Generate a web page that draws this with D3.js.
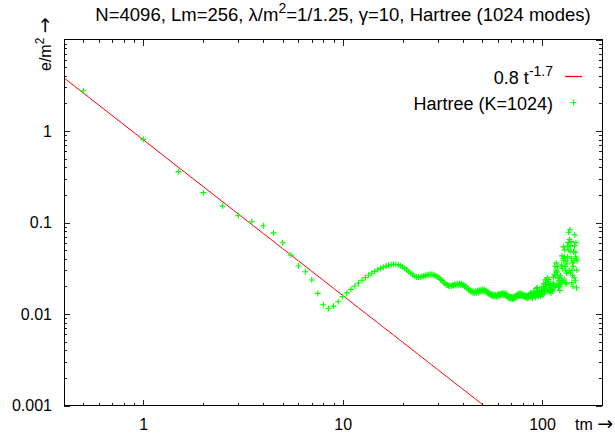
<!DOCTYPE html>
<html>
<head>
<meta charset="utf-8">
<script src="https://cdn.jsdelivr.net/npm/d3@7"></script>
<style>
  html, body { margin: 0; padding: 0; background: #fff; }
  svg { display: block; font-family: "Liberation Sans", Arial, sans-serif; }
</style>
</head>
<body>
<svg id="chart" width="615" height="442"></svg>
<script>
// ---- data ----
const titleText = ["N=4096, Lm=256, \u03bb/m", "2", "=1/1.25, \u03b3=10, Hartree (1024 modes)"];
const xTickLabels = [1, 10, 100];
const yTickLabels = [0.001, 0.01, 0.1, 1];
const xDomain = [0.4, 200];
const yDomain = [0.001, 10];
const fitCoef = 0.8;
const fitExp = -1.7;
const legendFit = ["0.8 t", "-1.7"];
const legendData = "Hartree (K=1024)";
const xLabel = "tm";
const yLabel = ["e/m", "2"];

const tm = [
  0.5,1,1.5,2,2.5,3,3.5,4,4.5,5,5.5,6,6.5,7,7.5,8,8.5,9,9.5,10,
  10.5,11,11.5,12,12.5,13,13.5,14,14.5,15,15.5,16,16.5,17,17.5,18,18.5,19,19.5,20,
  20.5,21,21.5,22,22.5,23,23.5,24,24.5,25,25.5,26,26.5,27,27.5,28,28.5,29,29.5,30,
  30.5,31,31.5,32,32.5,33,33.5,34,34.5,35,35.5,36,36.5,37,37.5,38,38.5,39,39.5,40,
  40.5,41,41.5,42,42.5,43,43.5,44,44.5,45,45.5,46,46.5,47,47.5,48,48.5,49,49.5,50,
  50.5,51,51.5,52,52.5,53,53.5,54,54.5,55,55.5,56,56.5,57,57.5,58,58.5,59,59.5,60,
  60.5,61,61.5,62,62.5,63,63.5,64,64.5,65,65.5,66,66.5,67,67.5,68,68.5,69,69.5,70,
  70.5,71,71.5,72,72.5,73,73.5,74,74.5,75,75.5,76,76.5,77,77.5,78,78.5,79,79.5,80,
  80.5,81,81.5,82,82.5,83,83.5,84,84.5,85,85.5,86,86.5,87,87.5,88,88.5,89,89.5,90,
  90.5,91,91.5,92,92.5,93,93.5,94,94.5,95,95.5,96,96.5,97,97.5,98,98.5,99,99.5,100,
  100.5,101,101.5,102,102.5,103,103.5,104,104.5,105,105.5,106,106.5,107,107.5,108,108.5,109,109.5,110,
  110.5,111,111.5,112,112.5,113,113.5,114,114.5,115,115.5,116,116.5,117,117.5,118,118.5,119,119.5,120,
  120.5,121,121.5,122,122.5,123,123.5,124,124.5,125,125.5,126,126.5,127,127.5,128,128.5,129,129.5,130,
  130.5,131,131.5,132,132.5,133,133.5,134,134.5,135,135.5,136,136.5,137,137.5,138,138.5,139,139.5,140,
  140.5,141,141.5,142,142.5,143,143.5,144,144.5,145,145.5,146,146.5,147,147.5,148,148.5,149,149.5,150
];

const energy = [
  2.75,0.81,0.36,0.212,0.151,0.119,0.102,0.092,0.077,0.060,0.044,0.0335,0.029,0.0235,0.0168,0.0126,0.0115,0.0122,0.0136,0.0155,
  0.0170,0.0186,0.0202,0.0218,0.0234,0.0250,0.0265,0.0279,0.0292,0.0304,0.0315,0.0325,0.0334,0.0341,0.0346,0.0349,0.0348,0.0344,0.0337,0.0327,
  0.0315,0.0302,0.0289,0.0277,0.0267,0.0259,0.0254,0.0252,0.0253,0.0256,0.0260,0.0264,0.0267,0.0269,0.0270,0.0270,0.0268,0.0264,0.0259,0.0253,
  0.0248,0.0238,0.0233,0.0222,0.0218,0.0209,0.0208,0.0202,0.0205,0.0201,0.0207,0.0203,0.0211,0.0206,0.0214,0.0208,0.0215,0.0209,0.0214,0.0206,
  0.0209,0.0199,0.0200,0.0190,0.0191,0.0182,0.0183,0.0175,0.0178,0.0171,0.0176,0.0170,0.0177,0.0171,0.0179,0.0173,0.0182,0.0175,0.0184,0.0177,
  0.0185,0.0178,0.0184,0.0176,0.0180,0.0171,0.0174,0.0166,0.0169,0.0161,0.0165,0.0158,0.0163,0.0156,0.0161,0.0155,0.0161,0.0155,0.0162,0.0156,
  0.0164,0.0158,0.0166,0.0160,0.0168,0.0161,0.0169,0.0162,0.0169,0.0161,0.0167,0.0158,0.0163,0.0154,0.0158,0.0150,0.0155,0.0148,0.0153,0.0147,
  0.0153,0.0146,0.0152,0.0147,0.0154,0.0149,0.0157,0.0151,0.0160,0.0154,0.0163,0.0157,0.0166,0.0159,0.0167,0.0160,0.0167,0.0159,0.0165,0.0157,
  0.0162,0.0155,0.0160,0.0153,0.0158,0.0151,0.0157,0.0150,0.0156,0.0150,0.0157,0.0152,0.0162,0.0155,0.0166,0.0170,0.0162,0.0154,0.0150,0.0156,
  0.0166,0.0178,0.0171,0.0160,0.0152,0.0158,0.0174,0.0190,0.0194,0.0178,0.0162,0.0155,0.0163,0.0180,0.0172,0.0160,0.0156,0.0166,0.0182,0.0198,
  0.0178,0.0164,0.0186,0.0214,0.0190,0.0171,0.0201,0.0236,0.0204,0.0177,0.0221,0.0248,0.0210,0.0180,0.0226,0.0238,0.0196,0.0175,0.0204,0.0214,
  0.0186,0.0170,0.0182,0.0193,0.0178,0.0186,0.0216,0.0252,0.0214,0.0196,0.0272,0.0332,0.0262,0.0204,0.0302,0.0362,0.0282,0.0214,0.0290,0.0328,
  0.0246,0.0196,0.0231,0.0252,0.0201,0.0181,0.0211,0.0262,0.0232,0.0221,0.0342,0.0432,0.0312,0.0231,0.0402,0.0542,0.0382,0.0241,0.0421,0.0502,
  0.0331,0.0221,0.0301,0.0381,0.0281,0.0214,0.0352,0.0552,0.0421,0.0281,0.0602,0.0782,0.0502,0.0301,0.0652,0.0832,0.0562,0.0281,0.0482,0.0622,
  0.0401,0.0221,0.0301,0.0362,0.0262,0.0201,0.0332,0.0482,0.0382,0.0251,0.0552,0.0732,0.0472,0.0231,0.0422,0.0602,0.0402,0.0193,0.0302,0.0382
];

// ---- layout ----
const plot = { left: 64, right: 602, top: 39.5, bottom: 405.5 };
const TICKFONT = 16, TITLEFONT = 18.5, KEYFONT = 18;
const RED = "#ff0000", GREEN = "#00ff00";

const svg = d3.select("#chart");
const x = d3.scaleLog().domain(xDomain).range([plot.left, plot.right]);
const y = d3.scaleLog().domain(yDomain).range([plot.bottom, plot.top]);

const isMajor = v => Math.abs(Math.log10(v) - Math.round(Math.log10(v))) < 1e-9;
const xMinor = x.ticks().filter(v => !isMajor(v));
const yMinor = y.ticks().filter(v => !isMajor(v));
const yMajorAll = y.ticks().filter(isMajor);
const xMajorAll = x.ticks().filter(isMajor);

const clipId = "plotclip";
svg.append("defs").append("clipPath").attr("id", clipId)
  .append("rect").attr("x", plot.left).attr("y", plot.top)
  .attr("width", plot.right - plot.left).attr("height", plot.bottom - plot.top);

function styleAxis(g) {
  g.select(".domain").remove();
  g.selectAll(".tick line").attr("stroke", "#222").attr("shape-rendering", "crispEdges");
  g.selectAll(".tick text").attr("fill", "#000").style("font-size", TICKFONT + "px")
    .style("font-family", '"Liberation Sans", Arial, sans-serif');
}

// bottom
svg.append("g").attr("transform", `translate(0,${plot.bottom})`)
  .call(d3.axisBottom(x).tickValues(xMinor).tickSizeInner(-3).tickSizeOuter(0).tickFormat(""))
  .call(styleAxis);
svg.append("g").attr("transform", `translate(0,${plot.bottom})`)
  .call(d3.axisBottom(x).tickValues(xTickLabels).tickSizeInner(-6).tickSizeOuter(0)
    .tickPadding(13).tickFormat(d3.format("~g")))
  .call(styleAxis);
// top
svg.append("g").attr("transform", `translate(0,${plot.top})`)
  .call(d3.axisTop(x).tickValues(xMinor).tickSizeInner(-3).tickSizeOuter(0).tickFormat(""))
  .call(styleAxis);
svg.append("g").attr("transform", `translate(0,${plot.top})`)
  .call(d3.axisTop(x).tickValues(xMajorAll).tickSizeInner(-6).tickSizeOuter(0).tickFormat(""))
  .call(styleAxis);
// left
svg.append("g").attr("transform", `translate(${plot.left},0)`)
  .call(d3.axisLeft(y).tickValues(yMinor).tickSizeInner(-3).tickSizeOuter(0).tickFormat(""))
  .call(styleAxis);
svg.append("g").attr("transform", `translate(${plot.left},0)`)
  .call(d3.axisLeft(y).tickValues(yTickLabels).tickSizeInner(-6).tickSizeOuter(0)
    .tickPadding(12).tickFormat(d3.format("~g")))
  .call(styleAxis);
// right
svg.append("g").attr("transform", `translate(${plot.right},0)`)
  .call(d3.axisRight(y).tickValues(yMinor).tickSizeInner(-3).tickSizeOuter(0).tickFormat(""))
  .call(styleAxis);
svg.append("g").attr("transform", `translate(${plot.right},0)`)
  .call(d3.axisRight(y).tickValues(yMajorAll).tickSizeInner(-6).tickSizeOuter(0).tickFormat(""))
  .call(styleAxis);

// fit line
const fitT = x.ticks(200).concat(xDomain).sort((a, b) => a - b);
const fitLine = d3.line().x(d => x(d)).y(d => y(fitCoef * Math.pow(d, fitExp)));
svg.append("path").datum(fitT.filter(d => fitCoef * Math.pow(d, fitExp) >= yDomain[0] * 0.5))
  .attr("clip-path", `url(#${clipId})`)
  .attr("d", fitLine).attr("fill", "none").attr("stroke", RED).attr("stroke-width", 1);

// data points
const pts = tm.map((t, i) => ({ t, e: energy[i] }));
const plus = "M-3,0H3M0,-3V3";
svg.append("g").attr("clip-path", `url(#${clipId})`)
  .selectAll("path").data(pts).join("path")
  .attr("transform", d => `translate(${x(d.t)},${y(d.e)})`)
  .attr("d", plus).attr("fill", "none").attr("stroke", GREEN).attr("stroke-width", 1.1);

// frame
svg.append("rect").attr("x", plot.left).attr("y", plot.top)
  .attr("width", plot.right - plot.left).attr("height", plot.bottom - plot.top)
  .attr("fill", "none").attr("stroke", "#000").attr("stroke-width", 1)
  .attr("shape-rendering", "crispEdges");

// title
const title = svg.append("text").attr("x", 343).attr("y", 21)
  .attr("text-anchor", "middle").style("font-size", TITLEFONT + "px");
title.append("tspan").text(titleText[0]);
title.append("tspan").attr("dy", -8).style("font-size", "14px").text(titleText[1]);
title.append("tspan").attr("dy", 8).text(titleText[2]);

// axis labels
const xl = svg.append("text").attr("x", 575).attr("y", 430).style("font-size", TICKFONT + "px");
xl.append("tspan").text(xLabel + " ");
xl.append("tspan").style("font-family", '"DejaVu Sans", sans-serif').style("font-size", "19px").text("\u2192");

const yl = svg.append("text").attr("transform", "translate(51,71) rotate(-90)")
  .style("font-size", TICKFONT + "px");
yl.append("tspan").text(yLabel[0]);
yl.append("tspan").attr("dy", -7).style("font-size", "12px").text(yLabel[1]);
yl.append("tspan").attr("dy", 7).text(" ");
yl.append("tspan").style("font-family", '"DejaVu Sans", sans-serif').style("font-size", "19px").text("\u2192");

// legend
const lg = svg.append("g");
const l1 = lg.append("text").attr("x", 553).attr("y", 84).attr("text-anchor", "end")
  .style("font-size", KEYFONT + "px");
l1.append("tspan").text(legendFit[0]);
l1.append("tspan").attr("dy", -8).style("font-size", "14px").text(legendFit[1]);
lg.append("line").attr("x1", 565).attr("x2", 582).attr("y1", 76.5).attr("y2", 76.5)
  .attr("stroke", RED).attr("stroke-width", 1.3);
lg.append("text").attr("x", 553).attr("y", 110).attr("text-anchor", "end")
  .style("font-size", KEYFONT + "px").text(legendData);
lg.append("path").attr("transform", "translate(573.5,102.5)").attr("d", plus)
  .attr("fill", "none").attr("stroke", GREEN).attr("stroke-width", 1.1);
</script>
</body>
</html>
